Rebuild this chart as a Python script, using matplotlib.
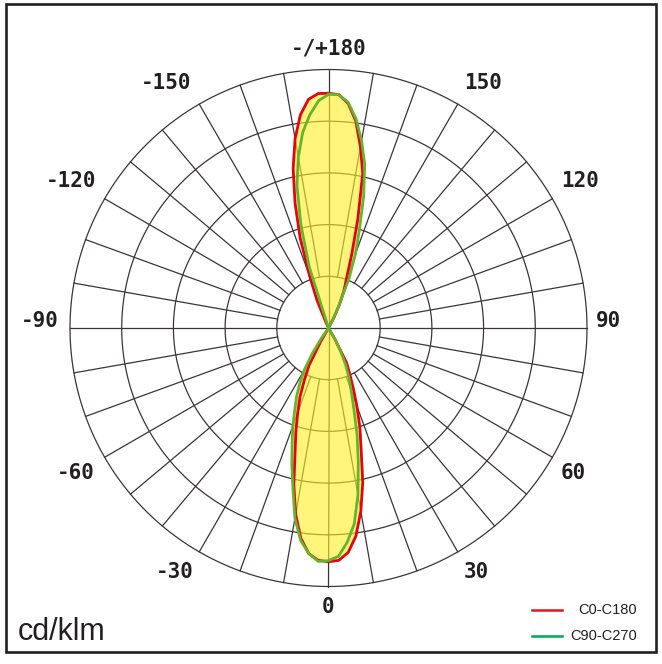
import numpy as np
import matplotlib.pyplot as plt
from matplotlib.path import Path
from matplotlib.patches import PathPatch, Rectangle
from matplotlib.lines import Line2D

# angle away from nadir (0) / zenith (180), degrees
DELTA = [0, 2.5, 5, 7.5, 10, 12.5, 15, 17.5, 20, 22.5, 25, 27.5, 30, 32.5, 35, 37.5]

# C0-C180 (cd/klm)
red_c0_bottom = [226, 225, 218, 203, 180, 153, 122, 101, 80, 62, 48, 38, 12, 0, 0, 0]
red_c0_top = [227, 226, 218, 202, 178, 153, 110, 75, 51, 39, 25, 12, 0, 0, 0, 0]
red_c180_bottom = [226, 225, 219, 205, 183, 155, 125, 105, 87, 72, 55, 41, 15, 0, 0, 0]
red_c180_top = [227, 227, 222, 208, 186, 158, 125, 91, 53, 29, 5, 0, 0, 0, 0, 0]

# C90-C270 (cd/klm)
green_c90_bottom = [225, 221, 208, 191, 164, 133, 107, 81, 64, 51, 39, 25, 12, 0, 0, 0]
green_c90_top = [226, 226, 219, 204, 184, 162, 131, 99, 76, 52, 23, 8, 0, 0, 0, 0]
green_c270_bottom = [225, 226, 219, 207, 187, 159, 137, 117, 101, 85, 73, 60, 47, 29, 12, 0]
green_c270_top = [226, 220, 207, 191, 168, 141, 103, 62, 0, 0, 0, 0, 0, 0, 0, 0]

RINGS = [50, 100, 150, 200, 250]
LABELS = ['0', '30', '60', '90', '120', '150', '-/+180',
          '-150', '-120', '-90', '-60', '-30']

# where the angle labels sit (degrees, radius)
LABEL_POS = [(0, 270), (31.2, 276), (59.3, 275), (91.4, 271), (120.3, 282),
             (147.7, 280), (180, 270), (-146.5, 284), (-119.7, 287),
             (-91.4, 279), (-60.1, 282), (-32.2, 279)]

GRID = '#3b3536'


def plane_curve(right_bottom, right_top, left_bottom, left_top):
    d = np.array(DELTA)
    theta = np.concatenate([-(180 - d), -d[::-1], d, (180 - d)[::-1]])
    r = np.concatenate([left_top, left_bottom[::-1], right_bottom, right_top[::-1]])
    return np.deg2rad(theta), r


th_red, r_red = plane_curve(np.array(red_c0_bottom), np.array(red_c0_top),
                            np.array(red_c180_bottom), np.array(red_c180_top))
th_green, r_green = plane_curve(np.array(green_c90_bottom), np.array(green_c90_top),
                                np.array(green_c270_bottom), np.array(green_c270_top))

fig = plt.figure(figsize=(6.62, 6.64), dpi=100)
w = 517 / 662
h = 517 / 664
ax = fig.add_axes([328.5 / 662 - w / 2, 336 / 664 - h / 2, w, h], projection='polar')
ax.set_theta_zero_location('S')
ax.set_theta_direction(1)
ax.set_ylim(0, 250)
ax.grid(False)
ax.set_xticks([])
ax.set_yticks([])
ax.spines['polar'].set_visible(False)
ax.patch.set_alpha(0)

# grid
full = np.linspace(0, 2 * np.pi, 721)
for ring in RINGS:
    ax.plot(full, np.full_like(full, ring), color=GRID, lw=0.9, clip_on=False, zorder=1)
for a in range(-170, 190, 10):
    r0 = 0 if a % 90 == 0 else RINGS[0]
    ax.plot([np.deg2rad(a)] * 2, [r0, RINGS[-1]], color=GRID, lw=0.9,
            clip_on=False, zorder=1)

# yellow area = union of both curves
p1 = Path(np.column_stack([th_red, r_red]))
p2 = Path(np.column_stack([th_green, r_green]))
area = PathPatch(Path.make_compound_path(p1, p2), facecolor='#fff02a',
                 edgecolor='none', alpha=0.62, transform=ax.transData, zorder=2)
ax.add_patch(area)

ax.plot(th_red, r_red, color='#e60012', lw=2.0, zorder=3)
ax.plot(th_green, r_green, color='#66b32e', lw=2.0, zorder=4)

for txt, (a, rr) in zip(LABELS, LABEL_POS):
    ax.text(np.deg2rad(a), rr, txt, ha='center', va='center', fontsize=15,
            family='DejaVu Sans Mono', fontweight='bold', color='#231f20',
            clip_on=False)

# frame, unit, legend
fig.add_artist(Rectangle((5.5 / 662, 12 / 664), 650 / 662, 647.7 / 664,
                         transform=fig.transFigure, fill=False,
                         edgecolor='#231f20', lw=1.9))
fig.text(18 / 662, 24 / 664, 'cd/klm', fontsize=22, family='Liberation Sans',
         color='#231f20', ha='left', va='baseline')
fig.add_artist(Line2D([532 / 662, 562 / 662], [54 / 664] * 2, color='#e8141c', lw=1.8))
fig.add_artist(Line2D([532 / 662, 562 / 662], [28 / 664] * 2, color='#00a650', lw=1.8))
fig.text(637 / 662, 54 / 664, 'C0-C180', fontsize=10.5, family='Liberation Sans',
         color='#231f20', ha='right', va='center')
fig.text(637 / 662, 28 / 664, 'C90-C270', fontsize=10.5, family='Liberation Sans',
         color='#231f20', ha='right', va='center')

fig.savefig('out.png', dpi=100)
